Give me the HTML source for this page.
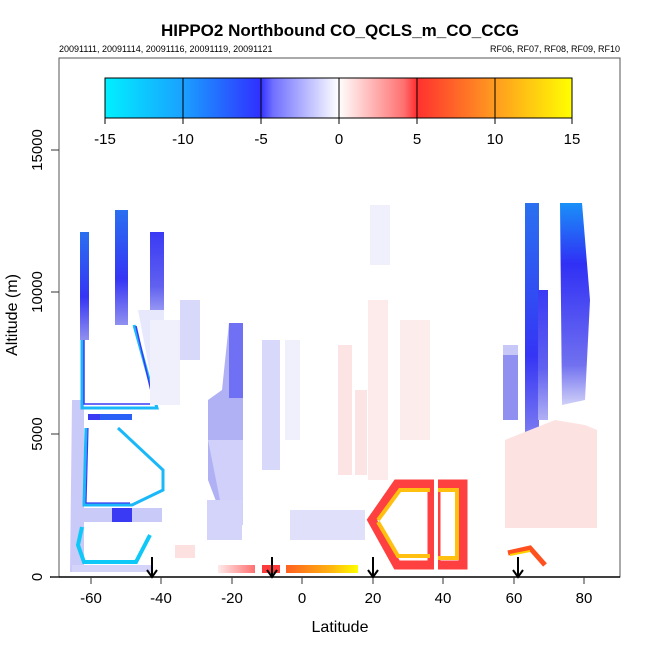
<!DOCTYPE html>
<html><head><meta charset="utf-8"><style>
body{margin:0;background:#fff;}
svg{display:block;font-family:"Liberation Sans",sans-serif;}
</style></head><body>
<svg width="650" height="650" viewBox="0 0 650 650" xmlns="http://www.w3.org/2000/svg">
<defs>
<linearGradient id="cb" x1="0" x2="1" y1="0" y2="0">
<stop offset="0" stop-color="#00f0ff"/>
<stop offset="0.167" stop-color="#1aa0ff"/>
<stop offset="0.333" stop-color="#3030ff"/>
<stop offset="0.36" stop-color="#7070ff"/>
<stop offset="0.5" stop-color="#ffffff"/>
<stop offset="0.64" stop-color="#ff7070"/>
<stop offset="0.667" stop-color="#ff3030"/>
<stop offset="0.833" stop-color="#ff9a20"/>
<stop offset="1" stop-color="#ffff00"/>
</linearGradient>
<linearGradient id="bv" x1="0" x2="0" y1="0" y2="1">
<stop offset="0" stop-color="#2a70f0"/><stop offset="0.6" stop-color="#3535f5"/><stop offset="1" stop-color="#9090f0"/>
</linearGradient>
<linearGradient id="bv2" x1="0" x2="0" y1="0" y2="1">
<stop offset="0" stop-color="#3a3af5"/><stop offset="0.6" stop-color="#6060f0"/><stop offset="1" stop-color="#b0b0f5"/>
</linearGradient>
<linearGradient id="rb" x1="0" x2="0" y1="0" y2="1">
<stop offset="0" stop-color="#1a90f8"/><stop offset="0.3" stop-color="#3030f5"/><stop offset="0.8" stop-color="#7070f0"/><stop offset="1" stop-color="#d0d0f8"/>
</linearGradient>
<linearGradient id="pg" x1="0" x2="1"><stop offset="0" stop-color="#ffeaea"/><stop offset="1" stop-color="#ff7070"/></linearGradient>
<linearGradient id="og" x1="0" x2="1"><stop offset="0" stop-color="#ff6020"/><stop offset="0.6" stop-color="#ffb010"/><stop offset="1" stop-color="#ffff00"/></linearGradient>
<linearGradient id="mb" x1="0" x2="1"><stop offset="0" stop-color="#e8e8fc"/><stop offset="0.6" stop-color="#9898f5"/><stop offset="1" stop-color="#c0c0f8"/></linearGradient>
</defs>
<text x="340" y="36" font-size="17" font-weight="bold" text-anchor="middle">HIPPO2 Northbound CO_QCLS_m_CO_CCG</text>
<text x="59" y="52" font-size="9">20091111, 20091114, 20091116, 20091119, 20091121</text>
<text x="620" y="52" font-size="9" text-anchor="end">RF06, RF07, RF08, RF09, RF10</text>

<!-- data -->
<g>
<!-- left lavender bands -->
<polygon points="72,400 84,400 84,572 70,572" fill="#cacaf8"/>
<rect x="72" y="508" width="90" height="14" fill="#cacaf8"/>
<rect x="112" y="508" width="20" height="14" fill="#3a3af5"/>
<rect x="72" y="565" width="80" height="7" fill="#d4d4fa"/>
<!-- blue bars -->
<rect x="80" y="232" width="9" height="108" fill="url(#bv)"/>
<rect x="115" y="210" width="13" height="115" fill="url(#bv)"/>
<rect x="150" y="232" width="14" height="90" fill="url(#bv2)"/>
<polygon points="138,310 164,310 164,405 156,405" fill="#e8e8fc"/>
<!-- shape 1 -->
<polyline points="82,340 82,408 157,408 134,325" fill="none" stroke="#1ab8f8" stroke-width="3"/>
<polyline points="84,340 84,404 154,404 136,326" fill="none" stroke="#3a3af5" stroke-width="1.5"/>
<!-- shape 2 -->
<rect x="88" y="414" width="12" height="6" fill="#3a3af5"/>
<rect x="100" y="414" width="32" height="6" fill="#2a60f5"/>
<polyline points="86,428 84,505 132,505 163,490 163,470 118,428" fill="none" stroke="#1ab8f8" stroke-width="3"/>
<polyline points="88,428 86,503 130,503" fill="none" stroke="#3a3af5" stroke-width="1.2"/>
<!-- shape 3 -->
<polyline points="82,527 78,545 84,562 136,562 150,535" fill="none" stroke="#0ec8f8" stroke-width="4"/>
<!-- middle blues -->
<rect x="180" y="300" width="20" height="60" fill="#d8d8fa"/>
<polygon points="229,323 243,323 243,525 225,525 208,480 208,400 222,390" fill="#b0b0f5"/>
<rect x="229" y="323" width="14" height="75" fill="#7070f5"/>
<polygon points="208,440 243,440 243,525 225,525" fill="#d0d0fa"/>
<rect x="262" y="340" width="18" height="130" fill="#d8d8fa"/>
<rect x="285" y="340" width="15" height="100" fill="#f0f0fc"/>
<rect x="207" y="500" width="35" height="40" fill="#d4d4fa"/>
<rect x="290" y="510" width="75" height="30" fill="#e0e0fb"/>
<rect x="150" y="320" width="30" height="85" fill="#f0f0fc"/>
<!-- pinks -->
<rect x="338" y="345" width="14" height="130" fill="#fde4e4"/>
<rect x="355" y="390" width="12" height="85" fill="#fde4e4"/>
<rect x="368" y="300" width="20" height="180" fill="#fdeaea"/>
<rect x="400" y="320" width="30" height="120" fill="#fdecec"/>
<rect x="370" y="205" width="20" height="60" fill="#f0f0fc"/>
<rect x="175" y="545" width="20" height="13" fill="#fde0e0"/>
<!-- orange hexagon -->
<polygon points="372,520 397,484 432,484 432,565 397,565" fill="none" stroke="#ff4040" stroke-width="9"/>
<polygon points="436,484 463,484 463,565 436,565" fill="none" stroke="#ff4040" stroke-width="9"/>
<polyline points="378,520 400,490 430,490" fill="none" stroke="#ffc010" stroke-width="4"/>
<polyline points="438,490 457,490 457,558 438,558" fill="none" stroke="#ffc010" stroke-width="4"/>
<polyline points="378,522 398,556 430,556" fill="none" stroke="#ffc010" stroke-width="4"/>
<rect x="434" y="478" width="4" height="92" fill="#fff"/>
<!-- bottom strip -->
<rect x="218" y="565" width="37" height="8" fill="url(#pg)"/>
<rect x="262" y="565" width="18" height="8" fill="#ff3a3a"/>
<rect x="286" y="565" width="72" height="8" fill="url(#og)"/>
<!-- right side -->
<rect x="525" y="203" width="14" height="255" fill="url(#bv)"/>
<rect x="538" y="290" width="10" height="130" fill="url(#bv2)"/>
<rect x="503" y="345" width="15" height="75" fill="#9090f0"/>
<rect x="503" y="345" width="15" height="10" fill="#c8c8f8"/>
<polygon points="560,203 582,203 590,300 585,400 562,405" fill="url(#rb)"/>
<polygon points="505,440 555,420 585,425 597,430 597,528 505,528" fill="#fde2e2"/>
<polyline points="508,553 530,548 545,565" fill="none" stroke="#ff5020" stroke-width="5"/>
<polyline points="510,555 530,551" fill="none" stroke="#ffd000" stroke-width="2"/>
</g>

<!-- colorbar -->
<rect x="105" y="78" width="467" height="40" fill="url(#cb)" stroke="#000" stroke-width="1"/>
<g stroke="#000" stroke-width="1">
<line x1="183" y1="78" x2="183" y2="118"/><line x1="261" y1="78" x2="261" y2="118"/>
<line x1="339" y1="78" x2="339" y2="118"/><line x1="417" y1="78" x2="417" y2="118"/>
<line x1="495" y1="78" x2="495" y2="118"/>
<line x1="105" y1="118" x2="105" y2="124"/><line x1="183" y1="118" x2="183" y2="124"/>
<line x1="261" y1="118" x2="261" y2="124"/><line x1="339" y1="118" x2="339" y2="124"/>
<line x1="417" y1="118" x2="417" y2="124"/><line x1="495" y1="118" x2="495" y2="124"/>
<line x1="572" y1="118" x2="572" y2="124"/>
</g>
<g font-size="15" text-anchor="middle">
<text x="105" y="144">-15</text><text x="183" y="144">-10</text><text x="261" y="144">-5</text>
<text x="339" y="144">0</text><text x="417" y="144">5</text><text x="495" y="144">10</text><text x="572" y="144">15</text>
</g>

<!-- box & axes -->
<rect x="59" y="58" width="561" height="519" fill="none" stroke="#555" stroke-width="1"/>
<line x1="50" y1="577" x2="620" y2="577" stroke="#000" stroke-width="1.5"/>
<g stroke="#333" stroke-width="1">
<line x1="51" y1="577" x2="59" y2="577"/><line x1="51" y1="434" x2="59" y2="434"/>
<line x1="51" y1="292" x2="59" y2="292"/><line x1="51" y1="150" x2="59" y2="150"/>
<line x1="91" y1="577" x2="91" y2="584"/><line x1="161" y1="577" x2="161" y2="584"/>
<line x1="232" y1="577" x2="232" y2="584"/><line x1="302" y1="577" x2="302" y2="584"/>
<line x1="373" y1="577" x2="373" y2="584"/><line x1="443" y1="577" x2="443" y2="584"/>
<line x1="514" y1="577" x2="514" y2="584"/><line x1="584" y1="577" x2="584" y2="584"/>
</g>
<g font-size="15" text-anchor="middle">
<text x="91" y="603">-60</text><text x="161" y="603">-40</text><text x="232" y="603">-20</text>
<text x="302" y="603">0</text><text x="373" y="603">20</text><text x="443" y="603">40</text>
<text x="514" y="603">60</text><text x="584" y="603">80</text>
<text x="340" y="632" font-size="16">Latitude</text>
</g>
<g font-size="15" text-anchor="middle">
<text transform="translate(42,577) rotate(-90)">0</text>
<text transform="translate(42,434) rotate(-90)">5000</text>
<text transform="translate(42,292) rotate(-90)">10000</text>
<text transform="translate(42,150) rotate(-90)">15000</text>
<text transform="translate(17,315) rotate(-90)" font-size="16">Altitude (m)</text>
</g>
<!-- arrows -->
<g stroke="#000" stroke-width="2" fill="none">
<line x1="152" y1="557" x2="152" y2="577"/><polyline points="147,570 152,577 157,570"/>
<line x1="272" y1="557" x2="272" y2="577"/><polyline points="267,570 272,577 277,570"/>
<line x1="373" y1="557" x2="373" y2="577"/><polyline points="368,570 373,577 378,570"/>
<line x1="518" y1="557" x2="518" y2="577"/><polyline points="513,570 518,577 523,570"/>
</g>
</svg>
</body></html>
